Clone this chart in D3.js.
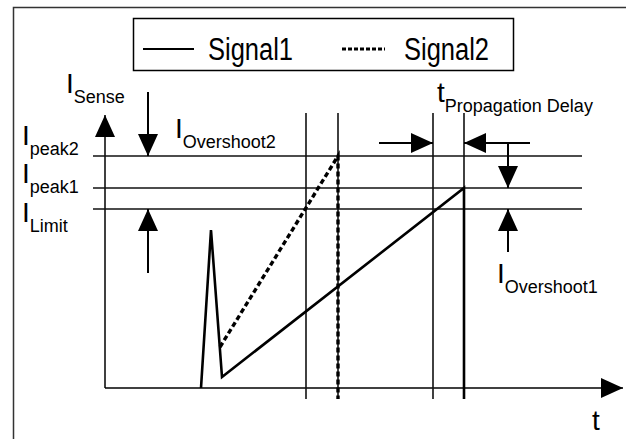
<!DOCTYPE html>
<html>
<head>
<meta charset="utf-8">
<script src="https://cdn.jsdelivr.net/npm/d3@7"></script>
<style>
  body { margin: 0; background: #fff; }
  text { font-family: "Liberation Sans", Arial, sans-serif; fill: #000; }
</style>
</head>
<body>
<script>
const width = 626;
const height = 439;

// current levels (arbitrary units, 0 = time axis)
const levelNames = ['peak2', 'peak1', 'Limit'];
const levelValues = [92.8, 80, 71.6];

// [time, current]
const signal1 = [[19.2, 0], [21.2, 63.2], [23.4, 4.4], [71.8, 80], [71.8, -4.4]];
const signal2 = [[23, 16.4], [46.6, 92.8], [46.6, -4.4]];

// limit crossing / switch-off instants
const markerTimes = [40.2, 46.6, 65.6, 71.8];

const seriesNames = ['Signal1', 'Signal2'];

const x = d3.scaleLinear().domain([0, 100]).range([105, 605]);
const y = d3.scaleLinear().domain([0, 100]).range([388, 138]);

const svg = d3.select('body').append('svg').attr('width', width).attr('height', height);

const defs = svg.append('defs');
defs
  .append('marker')
  .attr('id', 'head')
  .attr('viewBox', '0 0 22 20')
  .attr('refX', 22)
  .attr('refY', 10)
  .attr('markerWidth', 22)
  .attr('markerHeight', 20)
  .attr('markerUnits', 'userSpaceOnUse')
  .attr('orient', 'auto')
  .append('path')
  .attr('d', 'M0,0 L22,10 L0,20 Z')
  .attr('fill', '#000');

// outer frame
svg
  .append('rect')
  .attr('x', 13.5)
  .attr('y', 7.5)
  .attr('width', width)
  .attr('height', height)
  .attr('fill', 'none')
  .attr('stroke', '#333')
  .attr('stroke-width', 1.5);

const line = d3
  .line()
  .x(function (d) {
    return x(d[0]);
  })
  .y(function (d) {
    return y(d[1]);
  });

// axes
svg
  .append('line')
  .attr('x1', x(0))
  .attr('y1', y(0))
  .attr('x2', x(103.6))
  .attr('y2', y(0))
  .attr('stroke', '#000')
  .attr('stroke-width', 1.5)
  .attr('marker-end', 'url(#head)');
svg
  .append('line')
  .attr('x1', x(0))
  .attr('y1', y(0))
  .attr('x2', x(0))
  .attr('y2', y(109.2))
  .attr('stroke', '#000')
  .attr('stroke-width', 1.5)
  .attr('marker-end', 'url(#head)');

// level lines
svg
  .selectAll('.level')
  .data(levelValues)
  .enter()
  .append('line')
  .attr('class', 'level')
  .attr('x1', x(-2.4))
  .attr('x2', x(95.4))
  .attr('y1', function (d) {
    return y(d);
  })
  .attr('y2', function (d) {
    return y(d);
  })
  .attr('stroke', '#111')
  .attr('stroke-width', 1.6);

// marker lines
svg
  .selectAll('.marker')
  .data(markerTimes)
  .enter()
  .append('line')
  .attr('class', 'marker')
  .attr('x1', function (d) {
    return x(d);
  })
  .attr('x2', function (d) {
    return x(d);
  })
  .attr('y1', y(110))
  .attr('y2', y(-4.4))
  .attr('stroke', '#111')
  .attr('stroke-width', 1.6);

// signals
svg
  .append('path')
  .datum(signal1)
  .attr('d', line)
  .attr('fill', 'none')
  .attr('stroke', '#000')
  .attr('stroke-width', 2.6)
  .attr('stroke-linejoin', 'miter');

svg
  .append('path')
  .datum(signal2)
  .attr('d', line)
  .attr('fill', 'none')
  .attr('stroke', '#000')
  .attr('stroke-width', 3.4)
  .attr('stroke-dasharray', '5,3');

// annotation arrows, [t1, i1, t2, i2]
const arrows = [
  [8.6, 118.4, 8.6, levelValues[0]],
  [8.6, 46, 8.6, levelValues[2]],
  [80.6, 98, 80.6, levelValues[1]],
  [80.6, 54.4, 80.6, levelValues[2]],
  [54.8, 98, markerTimes[2], 98],
  [85, 98, markerTimes[3], 98],
];

svg
  .selectAll('.arrow')
  .data(arrows)
  .enter()
  .append('line')
  .attr('class', 'arrow')
  .attr('x1', function (d) {
    return x(d[0]);
  })
  .attr('y1', function (d) {
    return y(d[1]);
  })
  .attr('x2', function (d) {
    return x(d[2]);
  })
  .attr('y2', function (d) {
    return y(d[3]);
  })
  .attr('stroke', '#000')
  .attr('stroke-width', 2)
  .attr('marker-end', 'url(#head)');

// labels: main letter + subscript
const labels = [
  { m: 'I', s: 'Sense', x: 66, y: 93 },
  { m: 'I', s: levelNames[0], x: 22, y: 145 },
  { m: 'I', s: levelNames[1], x: 22, y: 183 },
  { m: 'I', s: levelNames[2], x: 22, y: 222 },
  { m: 'I', s: 'Overshoot2', x: 175, y: 138 },
  { m: 'I', s: 'Overshoot1', x: 497, y: 283 },
  { m: 't', s: 'Propagation Delay', x: 437, y: 102 },
  { m: 't', s: '', x: 592, y: 430 },
];

const lab = svg
  .selectAll('.lab')
  .data(labels)
  .enter()
  .append('text')
  .attr('class', 'lab')
  .attr('x', function (d) {
    return d.x;
  })
  .attr('y', function (d) {
    return d.y;
  })
  .style('font-size', '28px');
lab.append('tspan').text(function (d) {
  return d.m;
});
lab
  .filter(function (d) {
    return d.s !== '';
  })
  .append('tspan')
  .attr('dy', 10)
  .style('font-size', '18px')
  .text(function (d) {
    return d.s;
  });

// legend
const legend = svg.append('g');
legend
  .append('rect')
  .attr('x', 133.5)
  .attr('y', 18.5)
  .attr('width', 380)
  .attr('height', 52)
  .attr('fill', '#fff')
  .attr('stroke', '#000')
  .attr('stroke-width', 1.5);

const legendItems = legend
  .selectAll('.item')
  .data(seriesNames)
  .enter()
  .append('g')
  .attr('class', 'item');

legendItems
  .append('line')
  .attr('x1', function (d, i) {
    return i === 0 ? 143 : 342;
  })
  .attr('x2', function (d, i) {
    return i === 0 ? 194 : 385;
  })
  .attr('y1', 49)
  .attr('y2', 49)
  .attr('stroke', '#000')
  .attr('stroke-width', function (d, i) {
    return i === 0 ? 2 : 3;
  })
  .attr('stroke-dasharray', function (d, i) {
    return i === 0 ? null : '4,2';
  });

legendItems
  .append('text')
  .attr('x', function (d, i) {
    return i === 0 ? 208 : 404;
  })
  .attr('y', 60)
  .attr('textLength', 85)
  .attr('lengthAdjust', 'spacingAndGlyphs')
  .style('font-size', '31px')
  .text(function (d) {
    return d;
  });
</script>
</body>
</html>
